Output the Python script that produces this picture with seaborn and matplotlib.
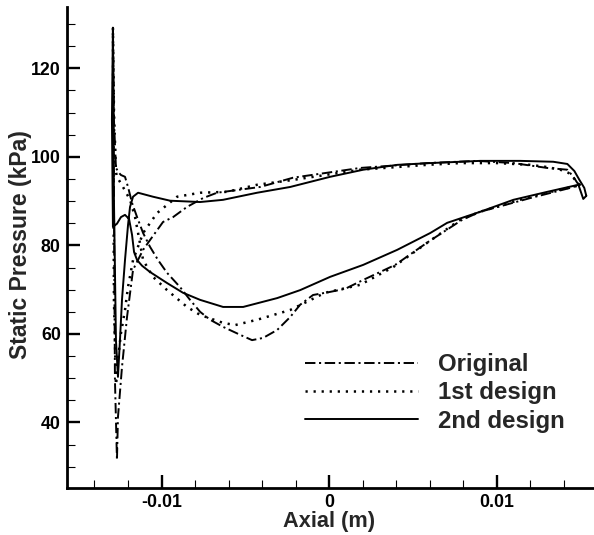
import matplotlib
matplotlib.use("Agg")
import matplotlib.pyplot as plt
import numpy as np
import pandas as pd
import seaborn as sns
from matplotlib.ticker import MultipleLocator, FixedLocator, FixedFormatter

# ---------------- data ----------------
designs = ["Original", "1st design", "2nd design"]
x_ticks = [-0.01, 0.0, 0.01]
x_tick_labels = ["-0.01", "0", "0.01"]
y_ticks = [40, 60, 80, 100, 120]
y_tick_labels = ["40", "60", "80", "100", "120"]

orig_x = [0.01499, 0.01481, 0.01457, 0.01421, 0.01301, 0.01099, 0.00884, 0.00585,
          0.00185, -0.00215, -0.00412, -0.00669, -0.00752, -0.00848, -0.00931,
          -0.00991, -0.01069, -0.01110, -0.01170, -0.01206, -0.01236, -0.01260,
          -0.01266, -0.01278, -0.01284, -0.01290, -0.01284, -0.01272, -0.01254,
          -0.01242, -0.01218, -0.01200, -0.01176, -0.01146, -0.01110, -0.01069,
          -0.01021, -0.00967, -0.00890, -0.00830, -0.00770, -0.00710, -0.00633,
          -0.00531, -0.00460, -0.00394, -0.00310, -0.00233, -0.00173, -0.00096,
          0.00006, 0.00096, 0.00203, 0.00394, 0.00591, 0.00794, 0.00901, 0.01200,
          0.01439, 0.01499]
orig_p = [93.7, 94.1, 95.5, 97.1, 97.5, 98.6, 99.1, 98.6,
          97.5, 95.3, 93.2, 91.9, 90.7, 88.7, 86.4,
          85.3, 81.2, 79.0, 74.5, 63.8, 52.5, 41.2,
          31.5, 49.6, 90.3, 129.2, 108.4, 97.5, 96.4,
          95.9, 95.5, 93.2, 89.6, 86.4, 82.8, 79.7,
          76.7, 73.8, 70.6, 67.7, 65.0, 63.2, 61.6,
          59.8, 58.6, 59.1, 60.9, 63.8, 66.6, 68.8,
          69.5, 70.2, 72.2, 75.6, 80.8, 85.8, 87.6, 90.7,
          93.0, 93.7]

d1_x = [0.01493, 0.01481, 0.01457, 0.01427, 0.01379, 0.01301, 0.01200, 0.01003,
        0.00782, 0.00585, 0.00185, -0.00215, -0.00430, -0.00609, -0.00770,
        -0.00907, -0.01027, -0.01110, -0.01170, -0.01200, -0.01218, -0.01242,
        -0.01260, -0.01272, -0.01284, -0.01290, -0.01284, -0.01272, -0.01266,
        -0.01230, -0.01188, -0.01158, -0.01140, -0.01110, -0.01051, -0.00967,
        -0.00848, -0.00770, -0.00633, -0.00561, -0.00430, -0.00233, -0.00024,
        0.00185, 0.00382, 0.00585, 0.00782, 0.00901, 0.01200, 0.01469, 0.01493]
d1_p = [93.4, 94.1, 95.3, 96.4, 97.1, 97.7, 98.2, 98.6,
        98.6, 98.2, 97.1, 94.8, 93.7, 92.1, 91.9,
        91.0, 87.3, 82.8, 76.7, 70.6, 65.4, 60.2,
        54.1, 48.5, 67.7, 129.2, 110.6, 96.6, 95.5,
        93.2, 90.3, 86.4, 82.8, 76.7, 72.9, 69.9,
        66.1, 64.3, 62.5, 62.0, 63.2, 65.4, 69.3,
        71.1, 75.1, 80.6, 85.8, 87.6, 91.0, 93.4, 93.4]

d2_x = [0.01534, 0.01522, 0.01493, 0.01463, 0.01421, 0.01337, 0.01140, 0.00901,
        0.00603, 0.00406, 0.00203, 0.00006, -0.00233, -0.00430, -0.00633,
        -0.00770, -0.00949, -0.01051, -0.01140, -0.01170, -0.01188, -0.01200,
        -0.01218, -0.01236, -0.01248, -0.01260, -0.01272, -0.01284, -0.01290,
        -0.01296, -0.01290, -0.01266, -0.01242, -0.01218, -0.01194, -0.01176,
        -0.01164, -0.01146, -0.01116, -0.01069, -0.00967, -0.00872, -0.00770,
        -0.00633, -0.00513, -0.00310, -0.00173, 0.00006, 0.00203, 0.00406,
        0.00603, 0.00704, 0.00901, 0.01099, 0.01301, 0.01487, 0.01516, 0.01534]
d2_p = [91.2, 93.0, 94.8, 96.8, 98.4, 98.9, 99.1, 99.1,
        98.6, 98.2, 97.1, 95.5, 93.2, 91.9, 90.3,
        89.8, 90.1, 91.0, 91.9, 91.0, 88.7, 84.6,
        76.7, 67.7, 58.6, 50.3, 58.6, 90.3, 129.2,
        108.4, 84.2, 84.9, 86.4, 86.9, 86.0, 82.4,
        78.5, 76.7, 75.4, 74.0, 71.5, 69.3, 67.7,
        66.1, 66.1, 68.1, 69.9, 72.9, 75.6, 79.0,
        82.8, 85.1, 87.6, 90.3, 92.1, 93.7, 90.5, 91.2]

# ---------------- table ----------------
frames = []
for name, xs, ps in zip(designs, [orig_x, d1_x, d2_x], [orig_p, d1_p, d2_p]):
    frames.append(pd.DataFrame({"x": xs, "p": ps, "design": name,
                                "order": np.arange(len(xs))}))
df = pd.concat(frames, ignore_index=True)

# ---------------- style ----------------
sns.set_style("ticks")
plt.rcParams["font.family"] = ["Liberation Sans", "DejaVu Sans"]
plt.rcParams["font.weight"] = "bold"
plt.rcParams["axes.unicode_minus"] = False
plt.rcParams["lines.scale_dashes"] = False

fig = plt.figure(figsize=(5.94, 5.35), dpi=100)
ax = fig.add_axes([0.1128, 0.0879, 0.8872, 0.8985])

sns.lineplot(data=df, x="x", y="p", hue="design", style="design",
             hue_order=designs, style_order=designs,
             palette={d: "black" for d in designs},
             dashes={"Original": (7.5, 2.6, 1.5, 2.6),
                     "1st design": (1.6, 4.2),
                     "2nd design": ""},
             estimator=None, sort=False, linewidth=1.4, legend=False, ax=ax)

for ln, lw in zip(ax.get_lines()[:3], [1.4, 1.8, 1.4]):
    ln.set_linewidth(lw)

ax.set_xlim(-0.01564, 0.0158)
ax.set_ylim(25.2, 133.8)

for s in ["top", "right"]:
    ax.spines[s].set_visible(False)
for s in ["left", "bottom"]:
    ax.spines[s].set_linewidth(2.0)
    ax.spines[s].set_color("black")

ax.xaxis.set_major_locator(FixedLocator(x_ticks))
ax.xaxis.set_major_formatter(FixedFormatter(x_tick_labels))
ax.xaxis.set_minor_locator(MultipleLocator(0.002))
ax.yaxis.set_major_locator(FixedLocator(y_ticks))
ax.yaxis.set_major_formatter(FixedFormatter(y_tick_labels))
ax.yaxis.set_minor_locator(MultipleLocator(5))

ax.tick_params(which="major", direction="in", length=9.6, width=1.7,
               color="black", labelsize=12.8, labelcolor="black")
ax.tick_params(which="minor", direction="in", length=5.5, width=0.8, color="black")
ax.tick_params(axis="y", which="major", pad=4.5)
ax.tick_params(axis="x", which="major", pad=4.0)
for lab in ax.get_xticklabels() + ax.get_yticklabels():
    lab.set_fontweight("bold")

ax.set_xlabel("Axial (m)", fontsize=15.7, fontweight="bold", va="center")
ax.xaxis.set_label_coords((329 - 67) / 527, -0.0700)
ax.set_ylabel("Static Pressure (kPa)", fontsize=16.5, fontweight="bold", va="center")
ax.yaxis.set_label_coords(-0.0873, 0.5055)

handles = list(ax.get_lines())[:3]
ax.legend(handles, designs, loc="center left",
          bbox_to_anchor=(305 / 594, 1 - 393 / 535), bbox_transform=fig.transFigure,
          frameon=False, borderpad=0, borderaxespad=0,
          handlelength=4.7, handletextpad=0.83, labelspacing=0.22,
          prop={"weight": "bold", "size": 17.3})

fig.savefig("out.png", dpi=100)
